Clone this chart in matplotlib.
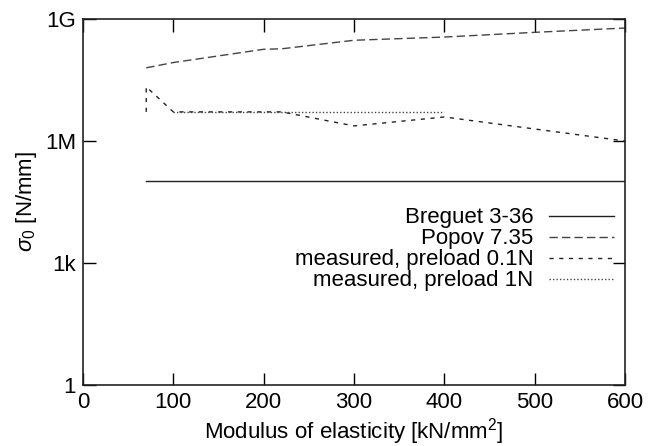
import matplotlib.pyplot as plt
import numpy as np

plt.rcParams['font.family'] = ['Liberation Sans', 'DejaVu Sans']
plt.rcParams['mathtext.fontset'] = 'custom'
plt.rcParams['mathtext.rm'] = 'Liberation Sans'
plt.rcParams['mathtext.it'] = 'Liberation Sans:italic'

# data
breguet_x = [70, 600]
breguet_y = [1.05e5, 1.05e5]

popov_x = [70, 100, 200, 220, 300, 400, 500, 600]
popov_y = [6.3e7, 8.5e7, 1.8e8, 1.85e8, 3.0e8, 3.6e8, 4.7e8, 6.0e8]

meas01_x = [70, 70, 100, 200, 220, 300, 400, 600]
meas01_y = [5.2e6, 2.15e7, 5.2e6, 5.2e6, 5.2e6, 2.35e6, 3.9e6, 1.0e6]

meas1_x = [100, 200, 300, 400]
meas1_y = [5.2e6, 5.2e6, 5.2e6, 5.2e6]

yticks = [1, 1e3, 1e6, 1e9]
ylabels = ['1', '1k', '1M', '1G']
xticks = [0, 100, 200, 300, 400, 500, 600]

fig = plt.figure(figsize=(6.59, 4.46), dpi=100)
ax = fig.add_axes([83/659, 1 - 385/446, 542/659, 366/446])

ax.plot(breguet_x, breguet_y, color='#222222', lw=1.0, label='Breguet 3-36')
ax.plot(popov_x, popov_y, color='#444444', lw=1.0, dashes=(6, 3), label='Popov 7.35')
ax.plot(meas01_x, meas01_y, color='#222222', lw=1.0, dashes=(3, 4), label='measured, preload 0.1N')
ax.plot(meas1_x, meas1_y, color='#444444', lw=1.0, dashes=(1, 1.5), label='measured, preload 1N')

ax.set_yscale('log')
ax.set_xlim(0, 600)
ax.set_ylim(1, 1e9)
ax.set_yticks(yticks)
ax.set_yticklabels(ylabels)
ax.minorticks_off()
ax.set_xticks(xticks)
ax.tick_params(direction='in', length=9, width=1.0, top=True, right=True, labelsize=16, pad=5)
for s in ax.spines.values():
    s.set_linewidth(1.2)
    s.set_color('#222222')

ax.set_xlabel('Modulus of elasticity [kN/mm$^2$]', fontsize=16, labelpad=2)
ax.set_ylabel(r'$\sigma_0$ [N/mm]', fontsize=16, labelpad=4)

ax.legend(loc='upper right', bbox_to_anchor=(1.016, 0.54), frameon=False, markerfirst=False,
          fontsize=16, handlelength=2.9, labelspacing=0.0, handletextpad=0.7)

fig.savefig('out.png', dpi=100)
